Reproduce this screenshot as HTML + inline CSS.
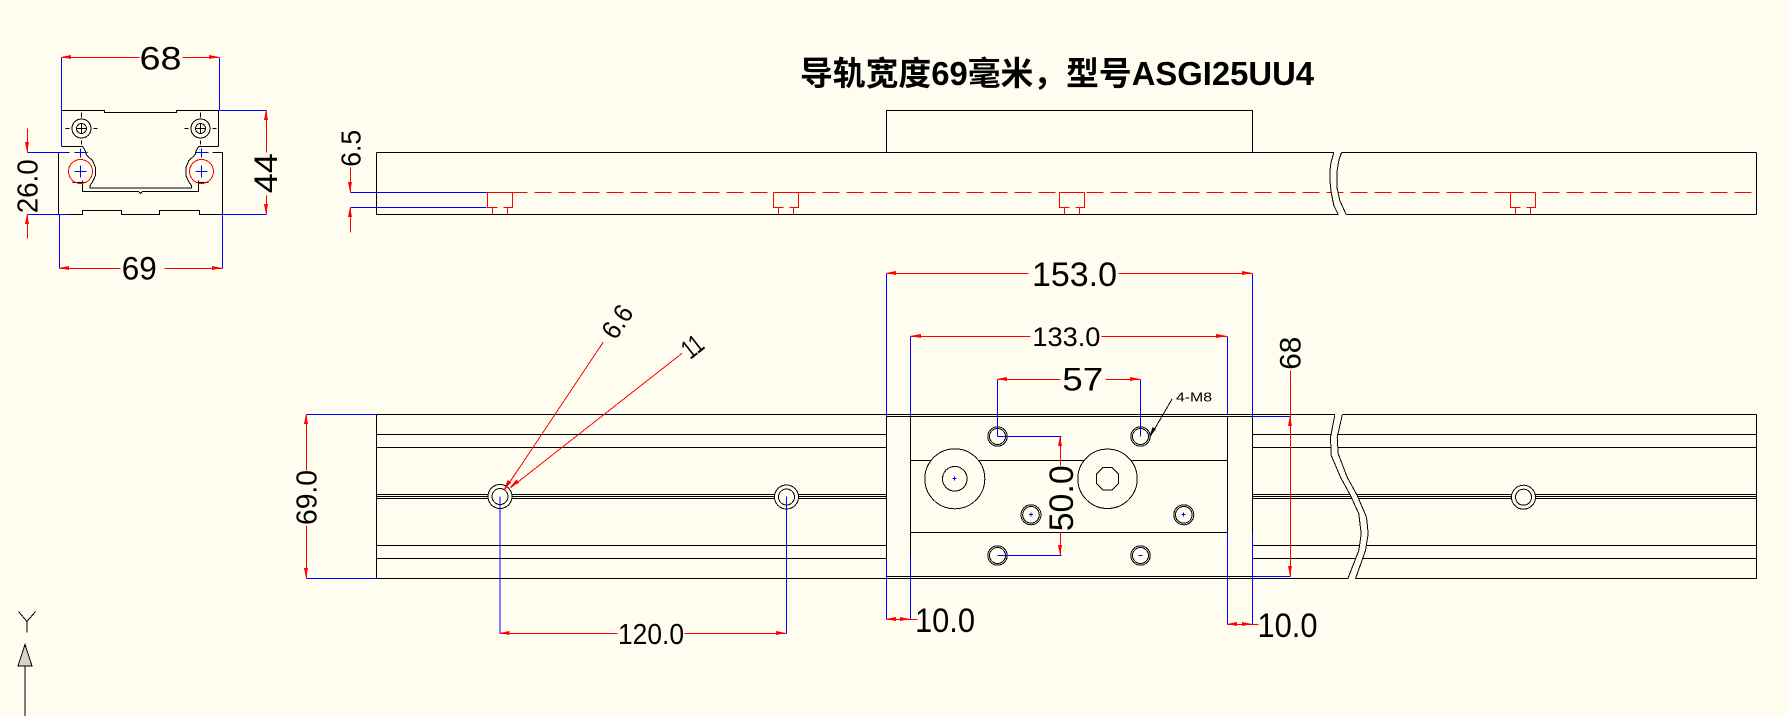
<!DOCTYPE html>
<html><head><meta charset="utf-8"><style>
html,body{margin:0;padding:0;background:#FFFCF0;}
svg{display:block;}
text{font-family:"Liberation Sans","Noto Sans CJK SC",sans-serif;fill:#000;}
</style></head><body>
<svg width="1788" height="716" viewBox="0 0 1788 716" xmlns="http://www.w3.org/2000/svg">
<rect width="1788" height="716" fill="#FFFCF0"/>

<!-- ===== Left cross-section ===== -->
<g fill="none" stroke-width="1" shape-rendering="crispEdges" transform="translate(0.5,0.5)">
  <path stroke="#000" d="M61,146 L61,110 L104,110 L104,112 L176,112 L176,110 L218,110 L218,146"/>
  <path stroke="#000" d="M61,146 L82,146 L83.5,148 L85,151 L85.5,153.5 L87,155.5 L92,160 L95,167 L95,175 L92,181.5 L89.5,185 L89.5,187.5 L190.9,187.5 L190.9,185 L188.4,181.5 L185.4,175 L185.4,167 L188.4,160 L193.4,155.5 L194.9,153.5 L195.4,151 L196.9,148 L198.4,146 L218,146"/>
  <path stroke="#000" d="M69,152 L58,152 L58,214 L82,214 L82,210 L121,210 L121,214 L159,214 L159,210 L199,210 L199,214 L222,214 L222,152 L212,152"/>
  <path stroke="#000" d="M82,180 L82,191 L138,191 L140,193 L142,191 L198,191 L198,180"/>
  <path stroke="#000" d="M72,182 H84 M197,182 H208"/>
  <circle cx="81" cy="128" r="9.5" stroke="#000"/>
  <circle cx="81" cy="128" r="5" stroke="#000"/>
  <path stroke="#000" d="M76,128 H86 M81,123 V133 M65,128 H69 M93,128 H97 M81,112 V117 M81,140 V144"/>
  <circle cx="200" cy="128" r="9.5" stroke="#000"/>
  <circle cx="200" cy="128" r="5" stroke="#000"/>
  <path stroke="#000" d="M195,128 H205 M200,123 V133 M184,128 H188 M212,128 H216 M200,112 V117 M200,140 V144"/>
  <circle cx="80" cy="171" r="12" stroke="#f00"/>
  <circle cx="201" cy="171" r="12" stroke="#f00"/>
  <path stroke="#00f" d="M74,171 H86 M80,165 V177 M195,171 H207 M201,165 V177 M74,152 H87 M80,148 V157 M195,152 H208 M201,148 V157"/>
  <path stroke="#00f" d="M61,57 V146 M219,57 V110"/>
  <path stroke="#f00" d="M61,57 H139 M182,57 H219"/>
  <path stroke="#00f" d="M219,110 H266 M222,214 H266"/>
  <path stroke="#f00" d="M266,110 V152 M266,195 V214"/>
  <path stroke="#00f" d="M27,152 H67 M27,214 H67"/>
  <path stroke="#f00" d="M27,128 V152 M27,214 V238"/>
  <path stroke="#00f" d="M59,214 V268 M222,214 V268"/>
  <path stroke="#f00" d="M59,268 H120 M164,268 H222"/>
</g>
<g fill="#f00">
  <polygon points="61,57 71,55 71,59"/><polygon points="219,57 209,55 209,59"/>
  <polygon points="266,110 264,120 268,120"/><polygon points="266,214 264,204 268,204"/>
  <polygon points="27,152 25,142 29,142"/><polygon points="27,214 25,224 29,224"/>
  <polygon points="59,268 69,266 69,270"/><polygon points="222,268 212,266 212,270"/>
</g>
<text x="160.5" y="69.3" font-size="32" text-anchor="middle" textLength="42" lengthAdjust="spacingAndGlyphs">68</text>
<text x="139.2" y="279.3" font-size="32" text-anchor="middle" textLength="35" lengthAdjust="spacingAndGlyphs">69</text>
<text transform="translate(277,173.3) rotate(-90)" font-size="32" text-anchor="middle" textLength="40" lengthAdjust="spacingAndGlyphs">44</text>
<text transform="translate(37.3,186.3) rotate(-90)" font-size="29" text-anchor="middle" textLength="54" lengthAdjust="spacingAndGlyphs">26.0</text>

<!-- ===== Title ===== -->
<text x="800" y="85" font-size="33" font-weight="bold" textLength="514" lengthAdjust="spacingAndGlyphs">导轨宽度69毫米，型号ASGI25UU4</text>

<!-- ===== Top view ===== -->
<g fill="none" stroke-width="1" shape-rendering="crispEdges" transform="translate(0.5,0.5)">
  <path stroke="#000" d="M886,152 V110 H1252 V152"/>
  <path stroke="#000" d="M376,152 H1756 M376,214 H1756 M376,152 V214 M1756,152 V214"/>
  <path stroke="#f00" stroke-dasharray="17 7" d="M486,192 H1756"/>
  <path stroke="#f00" d="M487,192 H512 M487,192 V207 H497 M503,207 H512 V192 M492,207 V214 M507,207 V214"/>
  <path stroke="#f00" d="M773,192 H798 M773,192 V207 H783 M789,207 H798 V192 M778,207 V214 M793,207 V214"/>
  <path stroke="#f00" d="M1059,192 H1084 M1059,192 V207 H1069 M1075,207 H1084 V192 M1064,207 V214 M1079,207 V214"/>
  <path stroke="#f00" d="M1510,192 H1535 M1510,192 V207 H1520 M1526,207 H1535 V192 M1515,207 V214 M1530,207 V214"/>
  <polygon fill="#FFFCF0" stroke="none" points="1333.8,150 1333.3,152 1330.5,162 1329.3,172 1329.8,184 1330.7,192 1333.3,205 1337.7,214 1338.5,216 1346.5,216 1345.7,214 1339.3,200 1336.7,188 1336.5,182 1336.7,170 1338.3,160 1341,152 1341.5,150"/>
  <polyline stroke="#000" points="1333.3,152 1330.5,162 1329.3,172 1329.8,184 1330.7,192 1333.3,205 1337.7,214"/>
  <polyline stroke="#000" points="1341,152 1338.3,160 1336.7,170 1336.5,182 1336.7,188 1339.3,200 1345.7,214"/>
  <path stroke="#00f" d="M350,192 H486 M350,207 H486"/>
  <path stroke="#f00" d="M350,167 V192 M350,207 V232"/>
</g>
<g fill="#f00">
  <polygon points="350,192 348,182 352,182"/><polygon points="350,207 348,217 352,217"/>
</g>
<text transform="translate(360.5,148.3) rotate(-90)" font-size="28" text-anchor="middle" textLength="37" lengthAdjust="spacingAndGlyphs">6.5</text>

<!-- ===== Bottom view ===== -->
<g fill="none" stroke-width="1" shape-rendering="crispEdges" transform="translate(0.5,0.5)">
  <path stroke="#000" d="M376,414 H1756 M376,578 H1756 M376,414 V578 M1756,414 V578"/>
  <path stroke="#000" d="M376,434 H886 M376,447 H886 M376,494 H886 M376,496 H886 M376,498 H886 M376,545 H886 M376,558 H886"/>
  <path stroke="#000" d="M1252,434 H1756 M1252,447 H1756 M1252,494 H1756 M1252,496 H1756 M1252,498 H1756 M1252,545 H1756 M1252,558 H1756"/>
  <circle cx="499.5" cy="496" r="12" stroke="#000" fill="#FFFCF0"/>
  <circle cx="499.5" cy="496" r="8" stroke="#000"/>
  <circle cx="786" cy="496.5" r="12" stroke="#000" fill="#FFFCF0"/>
  <circle cx="786" cy="496.5" r="8" stroke="#000"/>
  <circle cx="1523" cy="496.7" r="12" stroke="#000" fill="#FFFCF0"/>
  <circle cx="1523" cy="496.7" r="8" stroke="#000"/>
  <polygon fill="#FFFCF0" stroke="none" points="1334.6,412 1334.3,414.7 1330,436.7 1330.7,455 1340,476.7 1350,495 1358.3,513.3 1360.7,533.3 1358.3,550 1347.3,578.3 1346.8,580 1354.5,580 1355,578.3 1365,550 1367.7,533.3 1366,516.7 1356.7,495 1346.7,476.7 1337.7,453.3 1336.7,436.7 1341.7,414.7 1342,412"/>
  <polyline stroke="#000" points="1334.3,414.7 1330,436.7 1330.7,455 1340,476.7 1350,495 1358.3,513.3 1360.7,533.3 1358.3,550 1347.3,578.3"/>
  <polyline stroke="#000" points="1341.7,414.7 1336.7,436.7 1337.7,453.3 1346.7,476.7 1356.7,495 1366,516.7 1367.7,533.3 1365,550 1355,578.3"/>
  <path stroke="#000" d="M886,416 H1252 M886,576 H1252 M886,416 V576 M910,416 V576 M1227,416 V576 M1252,416 V576 M910,460 H1227 M910,532 H1227"/>
  <circle cx="954.3" cy="478.3" r="30" stroke="#000" fill="#FFFCF0"/>
  <circle cx="954.3" cy="478.3" r="12.3" stroke="#000"/>
  <circle cx="1107" cy="478.3" r="29.7" stroke="#000" fill="#FFFCF0"/>
  <polygon stroke="#000" points="1118.1,482.9 1111.6,489.4 1102.4,489.4 1095.9,482.9 1095.9,473.7 1102.4,467.2 1111.6,467.2 1118.1,473.7"/>
  <circle cx="997" cy="436" r="9.7" stroke="#000" fill="#FFFCF0"/><circle cx="997" cy="436" r="8" stroke="#000"/>
  <circle cx="1140" cy="436" r="9.7" stroke="#000" fill="#FFFCF0"/><circle cx="1140" cy="436" r="8" stroke="#000"/>
  <circle cx="997" cy="555" r="9.7" stroke="#000" fill="#FFFCF0"/><circle cx="997" cy="555" r="8" stroke="#000"/>
  <circle cx="1140" cy="555" r="9.7" stroke="#000" fill="#FFFCF0"/><circle cx="1140" cy="555" r="8" stroke="#000"/>
  <circle cx="1030.5" cy="514.3" r="10" stroke="#000" fill="#FFFCF0"/><circle cx="1030.5" cy="514.3" r="8.3" stroke="#000"/>
  <circle cx="1183.3" cy="514.3" r="10" stroke="#000" fill="#FFFCF0"/><circle cx="1183.3" cy="514.3" r="8.3" stroke="#000"/>
  <path stroke="#00f" d="M952,478 H956 M954,476 V480 M1028.5,514 H1032.5 M1030.5,512 V516 M1181,514 H1185 M1183,512 V516 M1138,555 H1142"/>
  <path stroke="#00f" d="M886,273 V416 M886,558 V619 M910,336 V416 M910,557 V619 M1227,336 V414 M1227,532 V624 M1252,273 V416 M1252,533 V624"/>
  <path stroke="#00f" d="M1252,416 H1290 M1252,576 H1290 M997,379 V436 M1140,379 V436 M997,436 H1061 M997,555 H1061 M306,414 H376 M306,578 H376 M499.5,496 V633 M786,496 V633"/>
  <path stroke="#f00" d="M886,273 H1028 M1118,273 H1252 M910,336 H1030 M1101,336 H1227 M997,379 H1060 M1105,379 H1140 M1060,436 V465 M1060,532 V555 M1290,370 V576 M306,414 V470 M306,525 V578 M499.5,633 H617 M684,633 H786 M886,619 H917 M1227,624 H1258"/>
  <path stroke="#f00" d="M504,489.5 L602.7,341.7 M510,487.3 L681.7,352.7"/>
  <path stroke="#000" d="M1171.7,398.3 L1149.3,436.7"/>
</g>
<g fill="#f00">
  <polygon points="886,273 896,271 896,275"/><polygon points="1252,273 1242,271 1242,275"/>
  <polygon points="910,336 921,334 921,338"/><polygon points="1227,336 1216,334 1216,338"/>
  <polygon points="997,379 1007,377 1007,381"/><polygon points="1140,379 1130,377 1130,381"/>
  <polygon points="1060,436 1058,446 1062,446"/><polygon points="1060,555 1058,545 1062,545"/>
  <polygon points="1290,416 1288,426 1292,426"/><polygon points="1290,576 1288,566 1292,566"/>
  <polygon points="306,414 304,424 308,424"/><polygon points="306,578 304,568 308,568"/>
  <polygon points="499.5,633 509.5,631 509.5,635"/><polygon points="786,633 776,631 776,635"/>
  <polygon points="886,619 896,617 896,621"/><polygon points="910,619 900,617 900,621"/>
  <polygon points="1227,624 1237,622 1237,626"/><polygon points="1252,624 1242,622 1242,626"/>
  <polygon points="504,489.5 511.4,482.4 507.7,480.0"/>
  <polygon points="510,487.3 519.2,482.8 516.5,479.4"/>
</g>
<polygon fill="#000" points="1149.3,436.7 1156.0,429.1 1152.6,427.1"/>

<text x="1074.5" y="286" font-size="34" text-anchor="middle" textLength="85" lengthAdjust="spacingAndGlyphs">153.0</text>
<text x="1066.4" y="346" font-size="27" text-anchor="middle" textLength="68" lengthAdjust="spacingAndGlyphs">133.0</text>
<text x="1082.8" y="390.7" font-size="32" text-anchor="middle" textLength="41" lengthAdjust="spacingAndGlyphs">57</text>
<text x="1176" y="401.7" font-size="13" textLength="36" lengthAdjust="spacingAndGlyphs">4-M8</text>
<text x="945" y="632" font-size="34" text-anchor="middle" textLength="60" lengthAdjust="spacingAndGlyphs">10.0</text>
<text x="1287.5" y="637" font-size="34" text-anchor="middle" textLength="60" lengthAdjust="spacingAndGlyphs">10.0</text>
<text x="651" y="644" font-size="29" text-anchor="middle" textLength="66" lengthAdjust="spacingAndGlyphs">120.0</text>
<text transform="translate(316.5,497.5) rotate(-90)" font-size="29" text-anchor="middle" textLength="55" lengthAdjust="spacingAndGlyphs">69.0</text>
<text transform="translate(1073,498.3) rotate(-90)" font-size="34" text-anchor="middle" textLength="66" lengthAdjust="spacingAndGlyphs">50.0</text>
<text transform="translate(1300.7,353.3) rotate(-90)" font-size="30" text-anchor="middle" textLength="33" lengthAdjust="spacingAndGlyphs">68</text>
<text transform="translate(615.5,341) rotate(-56.2)" font-size="27" textLength="34" lengthAdjust="spacingAndGlyphs">6.6</text>
<text transform="translate(690.2,360) rotate(-38.1)" font-size="27" textLength="20" lengthAdjust="spacingAndGlyphs">11</text>

<!-- ===== Y axis icon ===== -->
<g fill="none" stroke="#000" stroke-width="1" shape-rendering="crispEdges" transform="translate(0.5,0.5)">
  <path d="M18,611 L26.5,621 L35,611 M26.5,621 V632"/>
  <polygon points="24.5,644 17.5,665.5 31.5,665.5" fill="#d6d4ca"/>
  <path d="M24.5,665.5 V716"/>
</g>
</svg>
</body></html>
